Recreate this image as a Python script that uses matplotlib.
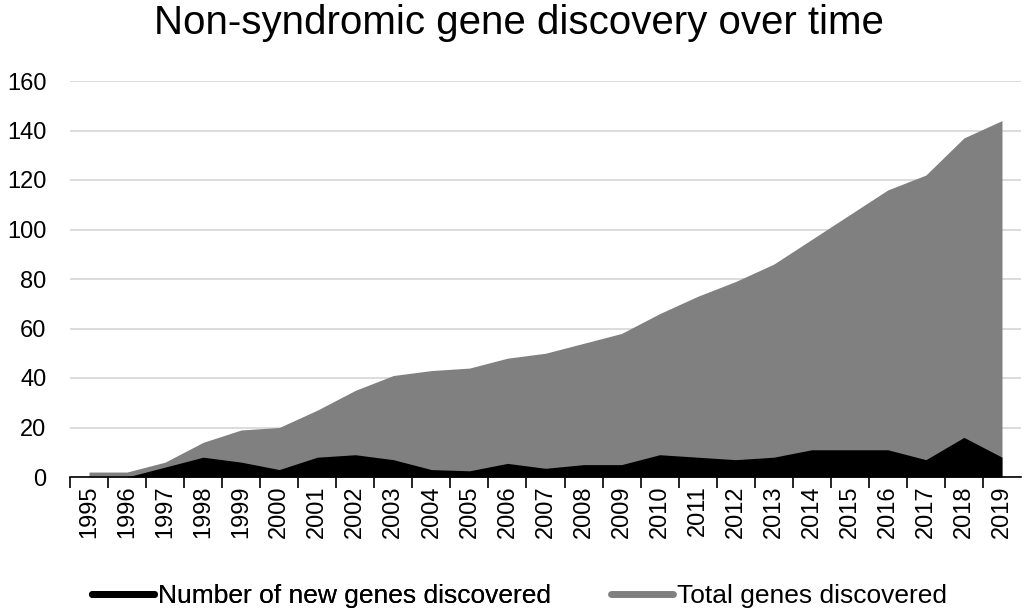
import numpy as np
import matplotlib.pyplot as plt
from matplotlib.lines import Line2D

plt.rcParams['font.family'] = ['Liberation Sans', 'DejaVu Sans']

# DATA
years = [str(y) for y in range(1995, 2020)]
new_genes = [0, 0, 4, 8, 6, 3, 8, 9, 7, 3, 2.5, 5.5, 3.5, 5, 5,
             9, 8, 7, 8, 11, 11, 11, 7, 16, 8]
total_genes = [2, 2, 6, 14, 19, 20, 27, 35, 41, 43, 44, 48, 50, 54, 58,
               66, 73, 79, 86, 96, 106, 116, 122, 137, 144]

x = np.arange(len(years))

fig = plt.figure(figsize=(10.26, 6.11), dpi=100)
ax = fig.add_axes([70/1026, 134/611, 951/1026, 396/611])

ax.fill_between(x, total_genes, color='#808080', linewidth=0, zorder=2)
ax.fill_between(x, new_genes, color='#000000', linewidth=0, zorder=3)

ax.set_xlim(-0.5, len(years) - 0.5)
ax.set_ylim(0, 160)
ax.set_yticks(range(0, 161, 20))
ax.grid(axis='y', color='#d9d9d9', linewidth=1.3, zorder=0)
ax.set_axisbelow(True)

ax.set_xticks(x)
ax.set_xticklabels(years, rotation=90, fontsize=17)
ax.set_xticks(np.arange(-0.5, len(years) - 1, 1), minor=True)
ax.tick_params(axis='x', which='major', length=0, pad=6)
ax.tick_params(axis='x', which='minor', length=8, width=1.2, color='black')
ax.tick_params(axis='y', length=0, labelsize=17, pad=17)

for s in ['top', 'right', 'left']:
    ax.spines[s].set_visible(False)
ax.spines['bottom'].set_color('black')
ax.spines['bottom'].set_linewidth(1.2)
ax.spines['bottom'].set_zorder(4)

fig.text(0.506, 1 - 34/611, 'Non-syndromic gene discovery over time',
         fontsize=29, ha='center', va='baseline')

# legend, two entries placed separately
leg_kw = dict(loc='center left', frameon=False, borderpad=0, borderaxespad=0,
              handlelength=2.35, handletextpad=0.15, prop={'size': 19})
h1 = Line2D([], [], color='black', linewidth=5, solid_capstyle='round')
h2 = Line2D([], [], color='#808080', linewidth=5, solid_capstyle='round')
leg1 = fig.legend([h1], ['Number of new genes discovered'],
                  bbox_to_anchor=(92/1026, 1 - 596/611), **leg_kw)
fig.add_artist(leg1)
fig.legend([h2], ['Total genes discovered'],
           bbox_to_anchor=(611/1026, 1 - 596/611), **leg_kw)

fig.savefig('out.png', dpi=100)
